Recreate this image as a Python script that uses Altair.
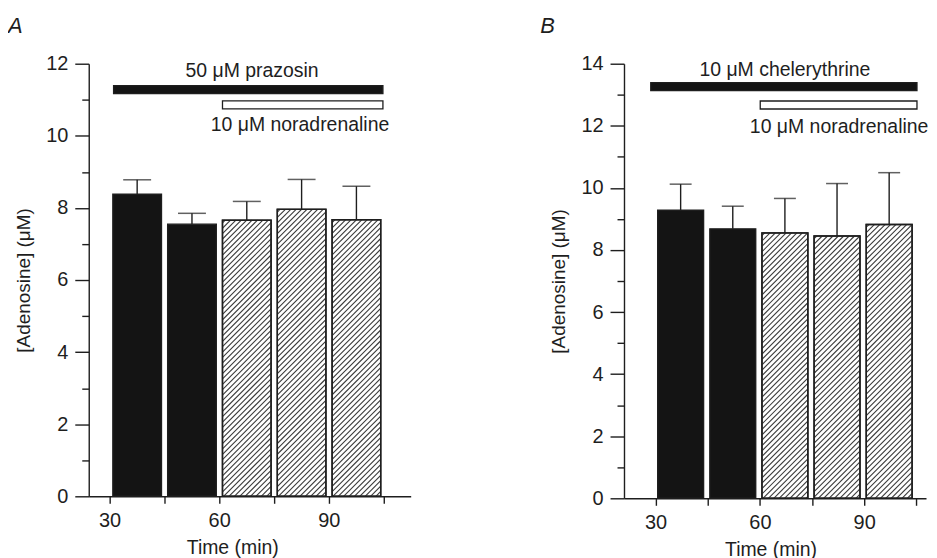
import altair as alt
import pandas as pd
import numpy as np

# ---------------- data ----------------
times = [30, 45, 60, 75, 90]                 # start of each 15-min collection period
hatched = [False, False, True, True, True]   # noradrenaline present (hatched bars)

a_mean = [8.38, 7.55, 7.66, 7.96, 7.67]
a_sem = [0.40, 0.30, 0.52, 0.83, 0.93]
b_mean = [9.28, 8.68, 8.55, 8.45, 8.82]
b_sem = [0.84, 0.73, 1.11, 1.69, 1.67]

# drug application periods (name, start, end, level on y axis, style)
a_drugs = [("50 μM prazosin", 31.1, 104.8, 11.28, "black"),
           ("10 μM noradrenaline", 60.9, 104.8, 10.86, "open")]
b_drugs = [("10 μM chelerythrine", 28.6, 105.2, 13.26, "black"),
           ("10 μM noradrenaline", 60.1, 105.2, 12.67, "open")]

# labels: (text, x, y)
a_labels = [("50 μM prazosin", 69.0, 11.64), ("10 μM noradrenaline", 82.1, 10.12)]
b_labels = [("10 μM chelerythrine", 67.2, 13.62), ("10 μM noradrenaline", 82.8, 11.78)]

x_ticks = [30, 45, 60, 75, 90, 105]
x_labels = [30, 60, 90]

FONT = "Liberation Sans"
INK = "#1e1e1e"


def panel(letter, means, sems, drugs, labels, xdom, ymax, width, height,
          bar_off, bar_w, cap, title_x, letter_x, letter_y):
    ky = height / ymax
    kx = width / (xdom[1] - xdom[0])
    bars = pd.DataFrame({
        "t": times,
        "x0": [t + bar_off for t in times],
        "x1": [t + bar_off + bar_w for t in times],
        "xc": [t + bar_off + bar_w / 2 for t in times],
        "mean": means,
        "upper": [m + s for m, s in zip(means, sems)],
        "hatched": hatched,
    })
    xs = alt.Scale(domain=xdom, nice=False, zero=False)
    ys = alt.Scale(domain=[0, ymax], nice=False)
    xaxis = alt.Axis(values=x_ticks, tickSize=7, tickWidth=1.4, domainWidth=1.4,
                     domainColor=INK, tickColor=INK, grid=False,
                     labelExpr="indexof(%s, datum.value) >= 0 ? datum.label : ''" % str(x_labels),
                     labelFont=FONT, labelFontSize=20, labelColor=INK, labelPadding=7,
                     title="Time (min)", titleFont=FONT, titleFontSize=19.5,
                     titleFontWeight="normal", titleColor=INK,
                     titleX=title_x, titleY=57, titleBaseline="alphabetic", titleAnchor="start",
                     titleAlign="center")
    yaxis = alt.Axis(values=list(range(0, ymax + 1, 2)), orient="left",
                     tickSize=14, tickWidth=1.4, domainWidth=1.4, domainColor=INK,
                     tickColor=INK, grid=False,
                     labelFont=FONT, labelFontSize=20, labelColor=INK, labelPadding=7,
                     title="[Adenosine] (μM)", titleFont=FONT, titleFontSize=19,
                     titleFontWeight="normal", titleColor=INK, titlePadding=12)
    minor_axis = alt.Axis(values=list(range(1, ymax, 2)), orient="left", tickSize=7,
                          tickWidth=1.4, tickColor=INK, domain=False, labels=False,
                          title=None, grid=False)

    def X(field):
        return alt.X(field, scale=xs, axis=xaxis)

    base = alt.Chart(bars)
    rect = base.mark_rect(stroke=INK, strokeWidth=1.4).encode(
        x=X("x0:Q"), x2="x1:Q",
        y=alt.Y("mean:Q", scale=ys, axis=yaxis),
        y2=alt.datum(0),
        fill=alt.condition("datum.hatched", alt.value("white"), alt.value("#141414")),
    )

    # diagonal hatching inside hatched bars (derived from bar extents)
    segs = []
    sp = 5.4
    for _, r in bars[bars.hatched].iterrows():
        W = (r.x1 - r.x0) * kx
        H = r["mean"] * ky
        c = -H + sp / 2
        while c < W:
            ya = max(0.0, -c)
            yb = min(H, W - c)
            if yb > ya:
                segs.append({"xa": r.x0 + (ya + c) / kx, "ya": ya / ky,
                             "xb": r.x0 + (yb + c) / kx, "yb": yb / ky})
            c += sp
    hatch = alt.Chart(pd.DataFrame(segs)).mark_rule(color="#3a3a3a", strokeWidth=1.1).encode(
        x=X("xa:Q"), x2="xb:Q",
        y=alt.Y("ya:Q", scale=ys, axis=None), y2="yb:Q")

    outline = base.transform_filter("datum.hatched").mark_rect(
        stroke=INK, strokeWidth=1.5, fill=None, fillOpacity=0).encode(
        x=X("x0:Q"), x2="x1:Q",
        y=alt.Y("mean:Q", scale=ys, axis=minor_axis), y2=alt.datum(0))

    stem = base.mark_rule(color=INK, strokeWidth=1.4).encode(
        x=X("xc:Q"), y=alt.Y("mean:Q", scale=ys, axis=None), y2="upper:Q")
    caps = base.mark_tick(orient="horizontal", color=INK, thickness=1.5, size=cap).encode(
        x=X("xc:Q"), y=alt.Y("upper:Q", scale=ys, axis=None))

    dd = pd.DataFrame([{"name": n, "s": s, "e": e,
                        "lo": y - 4 / ky, "hi": y + 4 / ky, "kind": k} for n, s, e, y, k in drugs])
    drugbars = alt.Chart(dd).mark_rect(stroke=INK, strokeWidth=1.3).encode(
        x=X("s:Q"), x2="e:Q",
        y=alt.Y("lo:Q", scale=ys, axis=None), y2="hi:Q",
        fill=alt.condition("datum.kind === 'black'", alt.value("#141414"), alt.value("white")))

    ld = pd.DataFrame([{"text": t, "x": x, "y": y} for t, x, y in labels])
    texts = alt.Chart(ld).mark_text(font=FONT, fontSize=19.5, color=INK, align="center",
                                    baseline="alphabetic").encode(
        x=X("x:Q"), y=alt.Y("y:Q", scale=ys, axis=None), text="text:N")

    letter_mark = alt.Chart(pd.DataFrame({"t": [letter]})).mark_text(
        font=FONT, fontSize=22, fontStyle="italic", color=INK, align="left",
        baseline="alphabetic").encode(
        x=alt.value(letter_x), y=alt.value(letter_y), text="t:N")

    return alt.layer(rect, hatch, outline, stem, caps, drugbars, texts, letter_mark).resolve_axis(
        y="independent").properties(width=width, height=height)


A = panel("A", a_mean, a_sem, a_drugs, a_labels, [24.3, 112.4], 12, 323, 434,
          0.9, 13.3, 28, 144, -81, -31)
B = panel("B", b_mean, b_sem, b_drugs, b_labels, [20.9, 107.8], 14, 303, 436,
          0.6, 13.2, 22, 147, -84, -31)

chart = alt.hconcat(A, B, spacing=214, bounds="flush").properties(
    padding={"left": 0, "top": 6, "right": 0, "bottom": 0}
).configure(background="white").configure_view(stroke=None)

chart.save("out.html", embed_options={"renderer": "svg", "actions": False})
